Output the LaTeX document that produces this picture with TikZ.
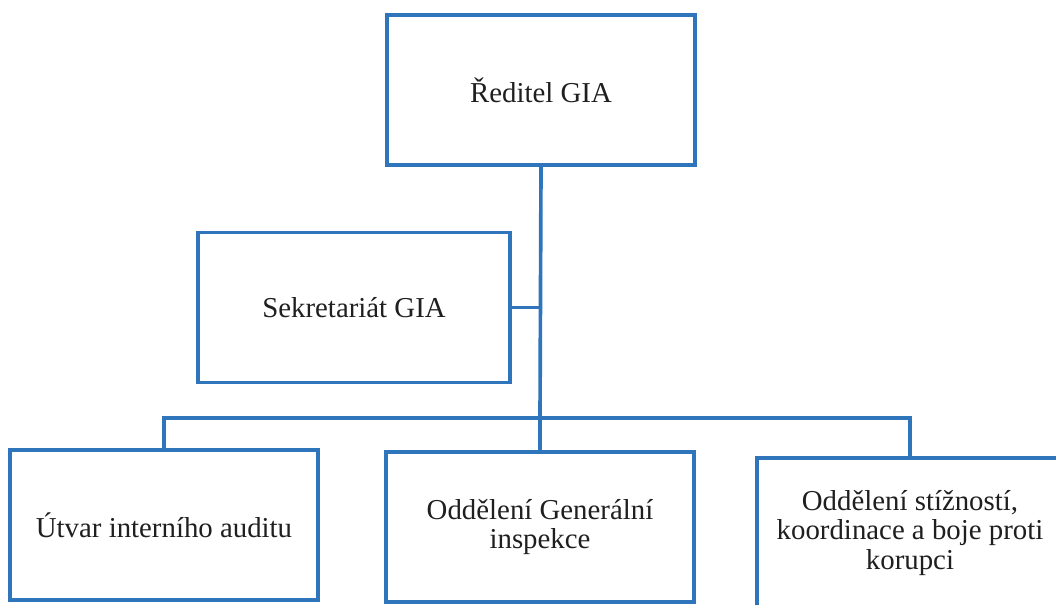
\documentclass[tikz,border=0pt]{standalone}
\usepackage{fontspec}
\setmainfont{Liberation Serif}
\usetikzlibrary{positioning, calc}
\definecolor{gia_blue}{RGB}{46,117,188}

\begin{document}
\begin{tikzpicture}[
            x=0.025cm, y=-0.025cm,
            unit/.style={rectangle, draw=gia_blue, line width=2.6pt, fill=white, minimum width=7.7cm, minimum height=3.75cm, align=center, text=black!88, font=\fontsize{20.5}{20.8}\selectfont},
            link/.style={draw=gia_blue, line width=2.6pt}
        ]
            \useasboundingbox (0,0) rectangle (1056,604);
            \clip (0,0) rectangle (1056,604);

            % Director
            \node[unit] (reditel) at (541,90) {Ředitel GIA};

            % Secretariat
            \node[unit, minimum width=7.8cm] (sekretariat) at (354,307.5) {Sekretariát GIA};

            % Bus between the levels
            \coordinate (bus) at (540,418);

            % Bottom row
            \node[unit] (audit) at (164,525) {Útvar interního auditu};
            \node[unit] (inspekce) at (540,527) {Oddělení Generální\\inspekce};
            \node[unit, minimum width=7.65cm] (korupce) at (910,533) {Oddělení stížností,\\koordinace a boje proti\\korupci};

            % Connectors
            \draw[link] (reditel.south) -- (bus);
            \draw[link] (sekretariat.east) -- (sekretariat.east -| bus);
            \draw[link] (bus) -- (inspekce.north);
            \draw[link] (audit.north) |- (bus) -| (korupce.north);
        \end{tikzpicture}
\end{document}
